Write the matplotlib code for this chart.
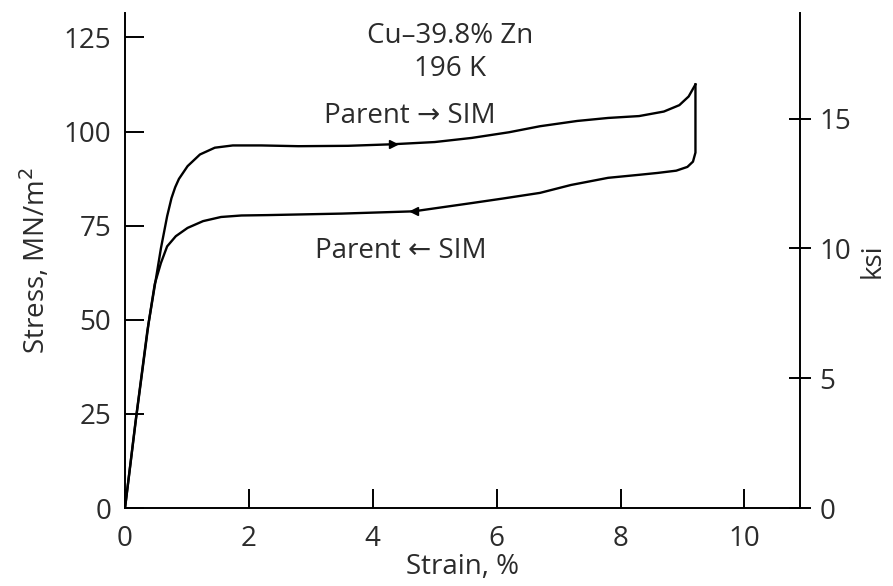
import numpy as np
import matplotlib
matplotlib.use("Agg")
import matplotlib.pyplot as plt

# Cu-39.8% Zn at 196 K: loading (parent -> SIM) and unloading (SIM -> parent)
strain_load = [0, 0.18, 0.38, 0.48, 0.58, 0.68, 0.75, 0.81, 0.87, 1.01, 1.21, 1.45, 1.74,
               2.2, 2.8, 3.6, 4.3, 5.0, 5.6, 6.2, 6.7, 7.3, 7.8, 8.3, 8.7, 8.95, 9.1, 9.21]
stress_load = [0, 24, 49, 59, 69, 77.5, 82.3, 85.2, 87.4, 90.8, 93.9, 95.7, 96.3,
               96.3, 96.1, 96.2, 96.6, 97.2, 98.3, 99.8, 101.4, 102.8, 103.6, 104.1,
               105.3, 107.0, 109.3, 112.5]

strain_unload = [9.21, 9.21, 9.17, 9.08, 8.9, 8.6, 8.3, 7.8, 7.2, 6.7, 6.1, 5.6, 4.66,
                 3.5, 2.3, 1.88, 1.55, 1.26, 1.01, 0.82, 0.68, 0.58, 0.48, 0.36, 0.17, 0]
stress_unload = [112.5, 94.4, 92.0, 90.6, 89.6, 89.0, 88.5, 87.7, 85.8, 83.7, 82.2, 81.0, 78.8,
                 78.2, 77.8, 77.7, 77.3, 76.2, 74.4, 72.2, 69.5, 65.1, 59.5, 47, 23, 0]

# where the direction arrows sit on each branch
arrow_load_x = 4.32
arrow_unload_x = 4.66

stress_ticks = [0, 25, 50, 75, 100, 125]
strain_ticks = [0, 2, 4, 6, 8, 10]
ksi_ticks = [0, 5, 10, 15]
MPA_PER_KSI = 6.895

plt.rcParams['font.family'] = ['Open Sans', 'DejaVu Sans']
txt = '#2b2b2b'
fs = 20

fig = plt.figure(figsize=(8.93, 5.86), dpi=100)
ax = fig.add_axes([0.14, 0.133, 0.756, 0.845])

ax.plot(strain_load, stress_load, color='black', lw=1.7, solid_joinstyle='round')
ax.plot(strain_unload, stress_unload, color='black', lw=1.7, solid_joinstyle='round')

# arrowheads showing loading direction
yl = np.interp(arrow_load_x, strain_load, stress_load)
yu = np.interp(arrow_unload_x, strain_unload[::-1], stress_unload[::-1])
ax.plot([arrow_load_x], [yl], marker='>', color='black', ms=6)
ax.plot([arrow_unload_x], [yu], marker='<', color='black', ms=6)

ax.set_xlim(0, 10.9)
ax.set_ylim(0, 131.5)
ax.set_xticks(strain_ticks)
ax.set_yticks(stress_ticks)

for s in ['left', 'bottom']:
    ax.spines[s].set_linewidth(1.4)
ax.spines['top'].set_visible(False)
ax.spines['right'].set_visible(False)

ax.tick_params(direction='in', length=14, width=1.4, labelsize=fs,
               labelcolor=txt, pad=10)
ax.tick_params(axis='x', pad=12)

ax.set_xlabel('Strain, %', fontsize=fs, color=txt, labelpad=0)
ax.set_ylabel('Stress, MN/m$^2$', fontsize=fs, color=txt, labelpad=8)

sec = ax.secondary_yaxis('right', functions=(lambda s: s / MPA_PER_KSI,
                                            lambda k: k * MPA_PER_KSI))
sec.set_yticks(ksi_ticks)
sec.spines['right'].set_linewidth(1.4)
sec.tick_params(direction='inout', length=16, width=1.4, labelsize=fs,
                labelcolor=txt, pad=6)
sec.set_ylabel('ksi', fontsize=fs, color=txt, labelpad=5)

ax.text(5.25, 125.3, 'Cu–39.8% Zn', ha='center', va='center', fontsize=fs, color=txt)
ax.text(5.25, 116.5, '196 K', ha='center', va='center', fontsize=fs, color=txt)
ax.text(4.6, 104, 'Parent → SIM', ha='center', va='center', fontsize=fs, color=txt)
ax.text(4.46, 68.3, 'Parent ← SIM', ha='center', va='center', fontsize=fs, color=txt)

fig.savefig('out.png', dpi=100)
